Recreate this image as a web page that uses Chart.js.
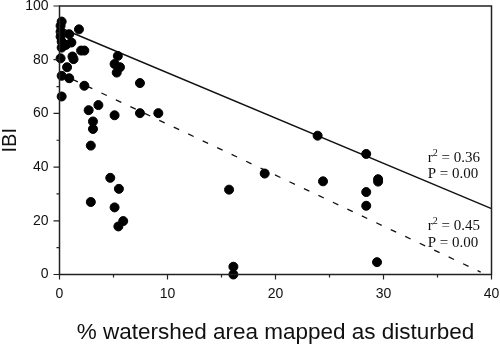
<!DOCTYPE html>
<html>
<head>
<meta charset="utf-8">
<script src="https://cdn.jsdelivr.net/npm/chart.js@4/dist/chart.umd.min.js"></script>
<style>
    html, body { margin: 0; padding: 0; background: #fff; }
    #wrap { width: 500px; height: 346px; }
</style>
</head>
<body>
<div id="wrap"><canvas id="ibiChart" width="500" height="346"></canvas></div>
<script>
// Observed sites: % disturbed area vs IBI
const disturbedPct = [
    0.2, 0.1, 1.8, 0.1, 0.9, 0.1, 0.2, 1.1, 0.6, 0.2,
    2.0, 2.3, 1.2, 1.3, 0.1, 0.7, 0.2, 0.9, 2.3, 0.2,
    5.4, 5.1, 5.6, 5.3, 7.45, 2.7, 3.6, 5.1, 7.45, 9.15,
    3.1, 3.1, 2.9, 4.7, 5.5, 2.9, 5.1, 5.9, 5.45,
    23.9, 28.4, 19.0, 24.4, 29.5, 29.5, 15.7, 28.4, 28.4, 16.1, 16.1, 29.4
];
const ibiScore = [
    94.2, 92.6, 91.3, 90.4, 89.5, 88.6, 86.7, 86.4, 85.5, 84.5,
    83.4, 83.4, 81.2, 80.2, 80.5, 77.2, 74.0, 73.1, 70.3, 66.3,
    81.4, 78.4, 77.2, 75.2, 71.3, 61.2, 63.1, 59.3, 60.1, 60.1,
    57.0, 54.2, 48.0, 36.0, 31.9, 27.0, 25.0, 19.9, 17.9,
    51.7, 44.9, 37.6, 34.7, 35.5, 34.6, 31.6, 30.7, 25.6, 2.9, 0, 4.6
];

// Fitted lines (end points)
const solidFitX = [0, 40];
const solidFitY = [92, 24.5];
const dashFitX = [1.2, 39];
const dashFitY = [72.7, 0.9];

// Axis ticks
const xMajorTicks = [0, 10, 20, 30, 40];
const xMinorTicks = [5, 15, 25, 35];
const yMajorTicks = [0, 20, 40, 60, 80, 100];
const yMinorTicks = [10, 30, 50, 70, 90];

// Fit statistics labels
const fitLabels = [
    { r2: '0.36', p: '0.00', x: 34.1, y: 42.0 },
    { r2: '0.45', p: '0.00', x: 34.1, y: 16.5 }
];

const toPoints = (xs, ys) => xs.map((x, i) => ({ x: x, y: ys[i] }));

// Box, tick marks and r²/P text
const framePlugin = {
    id: 'frame',
    afterDraw(chart) {
        const ctx = chart.ctx;
        const area = chart.chartArea;
        const xs = chart.scales.x;
        const ys = chart.scales.y;
        ctx.save();
        ctx.strokeStyle = '#222';
        ctx.lineWidth = 1.5;
        ctx.strokeRect(area.left, area.top, area.right - area.left, area.bottom - area.top);

        ctx.lineWidth = 1.2;
        ctx.beginPath();
        xMajorTicks.forEach(v => {
            const px = xs.getPixelForValue(v);
            ctx.moveTo(px, area.bottom);
            ctx.lineTo(px, area.bottom + 5);
        });
        xMinorTicks.forEach(v => {
            const px = xs.getPixelForValue(v);
            ctx.moveTo(px, area.bottom);
            ctx.lineTo(px, area.bottom + 3);
        });
        yMajorTicks.forEach(v => {
            const py = ys.getPixelForValue(v);
            ctx.moveTo(area.left, py);
            ctx.lineTo(area.left - 6, py);
        });
        yMinorTicks.forEach(v => {
            const py = ys.getPixelForValue(v);
            ctx.moveTo(area.left, py);
            ctx.lineTo(area.left - 3, py);
        });
        ctx.stroke();

        // r² and P labels
        ctx.fillStyle = '#111';
        ctx.textBaseline = 'alphabetic';
        ctx.textAlign = 'left';
        fitLabels.forEach(lbl => {
            const px = xs.getPixelForValue(lbl.x);
            const py = ys.getPixelForValue(lbl.y);
            ctx.font = '15px "Liberation Serif"';
            ctx.fillText('r', px, py);
            const rw = ctx.measureText('r').width;
            ctx.font = '10px "Liberation Serif"';
            ctx.fillText('2', px + rw, py - 6);
            const sw = ctx.measureText('2').width;
            ctx.font = '15px "Liberation Serif"';
            ctx.fillText(' = ' + lbl.r2, px + rw + sw, py);
            ctx.fillText('P = ' + lbl.p, px, py + 16.5);
        });
        ctx.restore();
    }
};

const ctx = document.getElementById('ibiChart').getContext('2d');
new Chart(ctx, {
    type: 'scatter',
    data: {
        datasets: [
            {
                label: 'Sites',
                data: toPoints(disturbedPct, ibiScore),
                backgroundColor: '#000',
                borderColor: '#000',
                pointRadius: 4.5,
                pointHoverRadius: 4.5,
                clip: false,
                order: 0
            },
            {
                label: 'Fit 1',
                type: 'line',
                data: toPoints(solidFitX, solidFitY),
                borderColor: '#111',
                borderWidth: 1.4,
                pointRadius: 0,
                fill: false,
                order: 1
            },
            {
                label: 'Fit 2',
                type: 'line',
                data: toPoints(dashFitX, dashFitY),
                borderColor: '#111',
                borderWidth: 1.3,
                borderDash: [6, 10],
                pointRadius: 0,
                fill: false,
                order: 2
            }
        ]
    },
    options: {
        responsive: false,
        animation: false,
        devicePixelRatio: 1,
        layout: { padding: { top: 6, right: 8.5, left: 0, bottom: 0 } },
        plugins: {
            legend: { display: false },
            tooltip: { enabled: false }
        },
        scales: {
            x: {
                type: 'linear',
                min: 0,
                max: 40,
                afterFit: scale => {
                    scale.height = 71.5;
                    scale.paddingLeft = 0;
                    scale.paddingRight = 0;
                },
                grid: { display: false, drawTicks: false },
                border: { display: false },
                ticks: {
                    stepSize: 10,
                    padding: 11,
                    color: '#111',
                    font: { family: '"Liberation Sans", Arial', size: 14 }
                },
                title: {
                    display: true,
                    text: '% watershed area mapped as disturbed',
                    color: '#111',
                    font: { family: '"Liberation Sans", Arial', size: 22.5 },
                    padding: { top: 0, bottom: 0 }
                }
            },
            y: {
                type: 'linear',
                min: 0,
                max: 100,
                afterFit: scale => {
                    scale.width = 59.5;
                    scale.paddingTop = 0;
                    scale.paddingBottom = 0;
                },
                grid: { display: false, drawTicks: false },
                border: { display: false },
                ticks: {
                    stepSize: 20,
                    padding: 11,
                    color: '#111',
                    font: { family: '"Liberation Sans", Arial', size: 14 }
                },
                title: {
                    display: true,
                    text: 'IBI',
                    color: '#111',
                    font: { family: '"Liberation Sans", Arial', size: 20, lineHeight: 1 },
                    padding: { top: 0, bottom: 0 }
                }
            }
        }
    },
    plugins: [framePlugin]
});
</script>
</body>
</html>
